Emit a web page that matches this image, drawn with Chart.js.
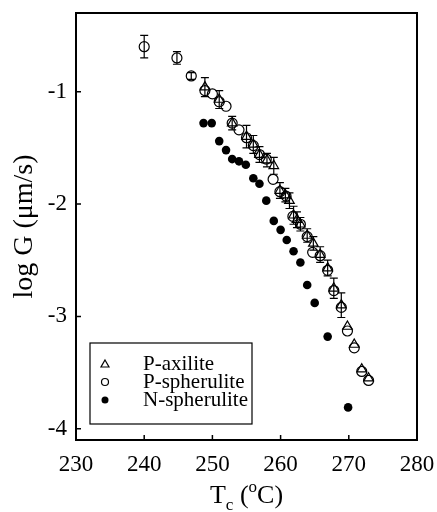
<!DOCTYPE html>
<html>
<head>
<meta charset="utf-8">
<script src="https://cdn.jsdelivr.net/npm/chart.js@4.4.0/dist/chart.umd.min.js"></script>
<style>
  html, body { margin: 0; padding: 0; background: #fff; }
</style>
</head>
<body>
<canvas id="chart" width="437" height="512"></canvas>
<script>
// tick labels
const xTicks = [230, 240, 250, 260, 270, 280];
const yTicks = [-4, -3, -2, -1];

// P-axilite (open triangles)
const axiliteT = [248.9, 251.0, 252.9, 255.0, 256.0, 256.9, 258.0, 259.0, 259.9, 260.7, 261.3, 261.9, 262.4, 262.9, 263.9, 264.8, 265.8, 266.9, 267.8, 268.9, 269.8, 270.8, 271.9, 272.9];
const axiliteG = [-0.96, -1.07, -1.28, -1.40, -1.47, -1.56, -1.61, -1.66, -1.88, -1.92, -1.97, -2.10, -2.14, -2.18, -2.28, -2.35, -2.45, -2.57, -2.75, -2.90, -3.09, -3.25, -3.47, -3.55];
const axiliteErr = [0.085, 0.08, 0.06, 0.10, 0.08, 0.07, 0.06, 0.075, 0.07, 0.06, 0.07, 0.08, 0.07, 0.06, 0.06, 0.06, 0.07, 0.07, 0.09, 0.11, 0, 0, 0, 0];

// P-spherulite (open circles)
const spherT = [240.0, 244.8, 246.9, 248.9, 250.0, 251.0, 252.0, 252.9, 253.9, 255.0, 256.0, 256.9, 257.9, 258.9, 259.9, 260.8, 261.8, 262.9, 263.9, 264.7, 265.8, 266.9, 267.8, 268.9, 269.8, 270.8, 271.9, 272.9];
const spherG = [-0.60, -0.70, -0.86, -0.99, -1.02, -1.09, -1.13, -1.28, -1.34, -1.41, -1.48, -1.56, -1.60, -1.78, -1.89, -1.93, -2.11, -2.18, -2.29, -2.43, -2.46, -2.59, -2.77, -2.92, -3.13, -3.28, -3.49, -3.57];
const spherErr = [0.10, 0.056, 0.03, 0, 0, 0, 0, 0, 0, 0, 0, 0, 0, 0, 0, 0, 0, 0, 0, 0, 0, 0, 0, 0, 0, 0, 0, 0];

// N-spherulite (filled circles)
const nT = [248.7, 249.9, 251.0, 252.0, 252.9, 253.9, 254.9, 256.0, 256.9, 257.9, 259.0, 260.0, 260.9, 261.9, 262.9, 263.9, 265.0, 266.9, 269.9];
const nG = [-1.28, -1.28, -1.44, -1.52, -1.60, -1.62, -1.65, -1.77, -1.82, -1.97, -2.15, -2.23, -2.32, -2.42, -2.52, -2.72, -2.88, -3.18, -3.81];

const toPoints = (xs, ys) => xs.map((x, i) => ({ x: x, y: ys[i] }));

const serif = "'Liberation Serif', 'Times New Roman', serif";
Chart.defaults.font.family = serif;
Chart.defaults.color = '#000';

// vertical error bars with caps
const errorBars = {
    id: 'errorBars',
    afterDatasetsDraw(chart) {
        const ctx = chart.ctx;
        const xs = chart.scales.x, ys = chart.scales.y;
        ctx.save();
        ctx.strokeStyle = '#000';
        ctx.lineWidth = 1.2;
        chart.data.datasets.forEach(ds => {
            if (!ds.errors) return;
            ds.data.forEach((p, i) => {
                const e = ds.errors[i];
                if (!e) return;
                const px = xs.getPixelForValue(p.x);
                const top = ys.getPixelForValue(p.y + e);
                const bot = ys.getPixelForValue(p.y - e);
                ctx.beginPath();
                ctx.moveTo(px, top); ctx.lineTo(px, bot);
                ctx.moveTo(px - 4, top); ctx.lineTo(px + 4, top);
                ctx.moveTo(px - 4, bot); ctx.lineTo(px + 4, bot);
                ctx.stroke();
            });
        });
        ctx.restore();
    }
};

// box, inward ticks, x title with sub/superscript, legend inside plot
const frame = {
    id: 'frame',
    afterDraw(chart) {
        const ctx = chart.ctx;
        const a = chart.chartArea;
        const xs = chart.scales.x, ys = chart.scales.y;
        ctx.save();
        ctx.strokeStyle = '#000';
        ctx.lineWidth = 2;
        ctx.strokeRect(a.left, a.top, a.right - a.left, a.bottom - a.top);

        ctx.lineWidth = 1.5;
        ctx.beginPath();
        xTicks.forEach(v => {
            const p = xs.getPixelForValue(v);
            ctx.moveTo(p, a.bottom); ctx.lineTo(p, a.bottom - 5);
        });
        yTicks.forEach(v => {
            const p = ys.getPixelForValue(v);
            ctx.moveTo(a.left, p); ctx.lineTo(a.left + 5, p);
        });
        ctx.stroke();

        // x axis title: T_c (°C)
        ctx.fillStyle = '#000';
        ctx.textBaseline = 'alphabetic';
        ctx.textAlign = 'left';
        const big = '26px ' + serif, small = '17px ' + serif;
        const parts = [
            { t: 'T', f: big, dy: 0 },
            { t: 'c', f: small, dy: 7 },
            { t: ' (', f: big, dy: 0 },
            { t: 'o', f: small, dy: -11 },
            { t: 'C)', f: big, dy: 0 }
        ];
        let w = 0;
        parts.forEach(p => { ctx.font = p.f; p.w = ctx.measureText(p.t).width; w += p.w; });
        let cx = (a.left + a.right) / 2 - w / 2;
        const base = 503;
        parts.forEach(p => { ctx.font = p.f; ctx.fillText(p.t, cx, base + p.dy); cx += p.w; });

        // legend
        const lx = 90, ly = 343, lw = 162, lh = 81;
        ctx.lineWidth = 1.2;
        ctx.strokeRect(lx, ly, lw, lh);
        ctx.font = '21px ' + serif;
        ctx.textBaseline = 'middle';
        chart.data.datasets.forEach((ds, i) => {
            const my = ly + 21 + i * 18;
            const mx = lx + 15;
            ctx.lineWidth = 1.2;
            ctx.beginPath();
            if (ds.pointStyle === 'triangle') {
                ctx.moveTo(mx, my - 4);
                ctx.lineTo(mx + 4, my + 3);
                ctx.lineTo(mx - 4, my + 3);
                ctx.closePath();
                ctx.stroke();
            } else {
                ctx.arc(mx, my, 3.5, 0, Math.PI * 2);
                if (ds.filled) { ctx.fill(); } else { ctx.stroke(); }
            }
            ctx.fillText(ds.label, lx + 53, my);
        });
        ctx.restore();
    }
};

// keep the plot box where the layout padding puts it
const noEdgePadding = s => {
    s.paddingTop = 0; s.paddingBottom = 0; s.paddingLeft = 0; s.paddingRight = 0;
};

new Chart(document.getElementById('chart'), {
    type: 'scatter',
    data: {
        datasets: [
            {
                label: 'P-axilite',
                data: toPoints(axiliteT, axiliteG),
                errors: axiliteErr,
                pointStyle: 'triangle',
                pointRadius: 5.5,
                borderColor: '#000',
                backgroundColor: 'rgba(0,0,0,0)',
                borderWidth: 1.2
            },
            {
                label: 'P-spherulite',
                data: toPoints(spherT, spherG),
                errors: spherErr,
                pointStyle: 'circle',
                pointRadius: 5,
                borderColor: '#000',
                backgroundColor: 'rgba(0,0,0,0)',
                borderWidth: 1.2
            },
            {
                label: 'N-spherulite',
                data: toPoints(nT, nG),
                filled: true,
                pointStyle: 'circle',
                pointRadius: 4.3,
                borderColor: '#000',
                backgroundColor: '#000',
                borderWidth: 0
            }
        ]
    },
    options: {
        responsive: false,
        animation: false,
        layout: { padding: { left: 0, right: 20, top: 13, bottom: 0 } },
        plugins: {
            legend: { display: false },
            tooltip: { enabled: false }
        },
        scales: {
            x: {
                type: 'linear',
                min: 230,
                max: 280,
                afterBuildTicks: s => { s.ticks = xTicks.map(v => ({ value: v })); },
                afterFit: s => { s.height = 72; noEdgePadding(s); },
                grid: { display: false, drawTicks: false },
                border: { display: false },
                ticks: { font: { size: 23 }, padding: 11, maxRotation: 0, callback: v => String(v) }
            },
            y: {
                type: 'linear',
                min: -4.1,
                max: -0.3,
                afterBuildTicks: s => { s.ticks = yTicks.map(v => ({ value: v })); },
                afterFit: s => { s.width = 76; noEdgePadding(s); },
                grid: { display: false, drawTicks: false },
                border: { display: false },
                ticks: { font: { size: 23 }, padding: 9, callback: v => String(v) },
                title: { display: true, text: 'log G (μm/s)', font: { size: 28 }, padding: { top: 8, bottom: 0 } }
            }
        }
    },
    plugins: [errorBars, frame]
});
</script>
</body>
</html>
